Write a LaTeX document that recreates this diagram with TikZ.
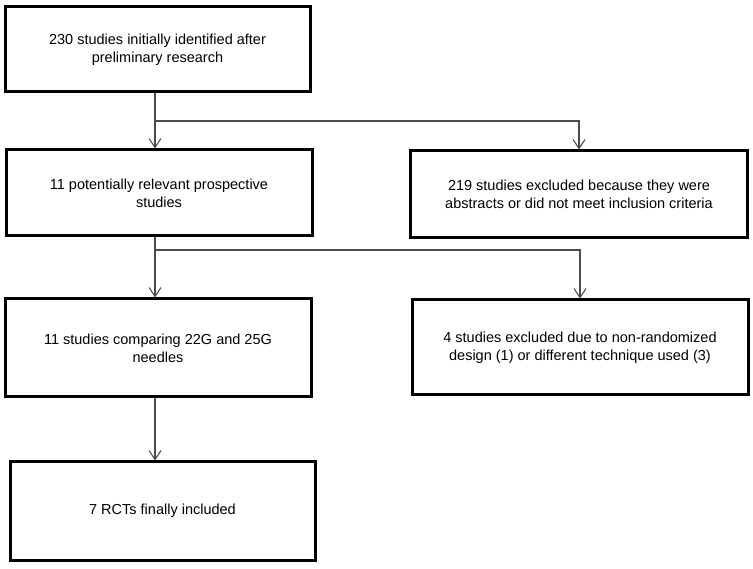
\documentclass[tikz,border=0pt]{standalone}
\usepackage{fontspec}
\setmainfont{Liberation Sans}
\usepackage{tikz}
\usetikzlibrary{arrows.meta,calc}

\tikzset{
    box/.style={draw, line width=3pt, align=center, font=\fontsize{14.5}{18}\selectfont},
    flow/.style={draw=black!70, line width=1.1pt, -{Straight Barb[length=9pt,width=12pt]}}
}

\begin{document}
\begin{tikzpicture}[x=1pt,y=-1pt]
    \useasboundingbox (0,0) rectangle (753,569);
    % left column
    \node[box, minimum width=305pt, minimum height=85pt] (found) at (157.5,49.5) {230 studies initially identified after\\preliminary research};
    \node[box, minimum width=306pt, minimum height=86pt] (relevant) at (159,193) {11 potentially relevant prospective\\studies};
    \node[box, minimum width=306pt, minimum height=98pt] (compare) at (158,348) {11 studies comparing 22G and 25G\\needles};
    \node[box, minimum width=305pt, minimum height=98pt] (rcts) at (162.5,511) {7 RCTs finally included};
    % right column
    \node[box, minimum width=337pt, minimum height=87pt] (excl219) at (579,194.5) {219 studies excluded because they were\\abstracts or did not meet inclusion criteria};
    \node[box, minimum width=336pt, minimum height=95pt] (excl4) at (580,347.5) {4 studies excluded due to non-randomized\\design (1) or different technique used (3)};
    % connectors
    \coordinate (split1) at (155,121);
    \coordinate (split2) at (155,250);
    \draw[flow] (split1 |- found.south) -- (split1 |- relevant.north);
    \draw[flow] (split1) -| (excl219.north);
    \draw[flow] (split2 |- relevant.south) -- (split2 |- compare.north);
    \draw[flow] (split2) -| (excl4.north);
    \draw[flow] (split2 |- compare.south) -- (split2 |- rcts.north);
\end{tikzpicture}
\end{document}
